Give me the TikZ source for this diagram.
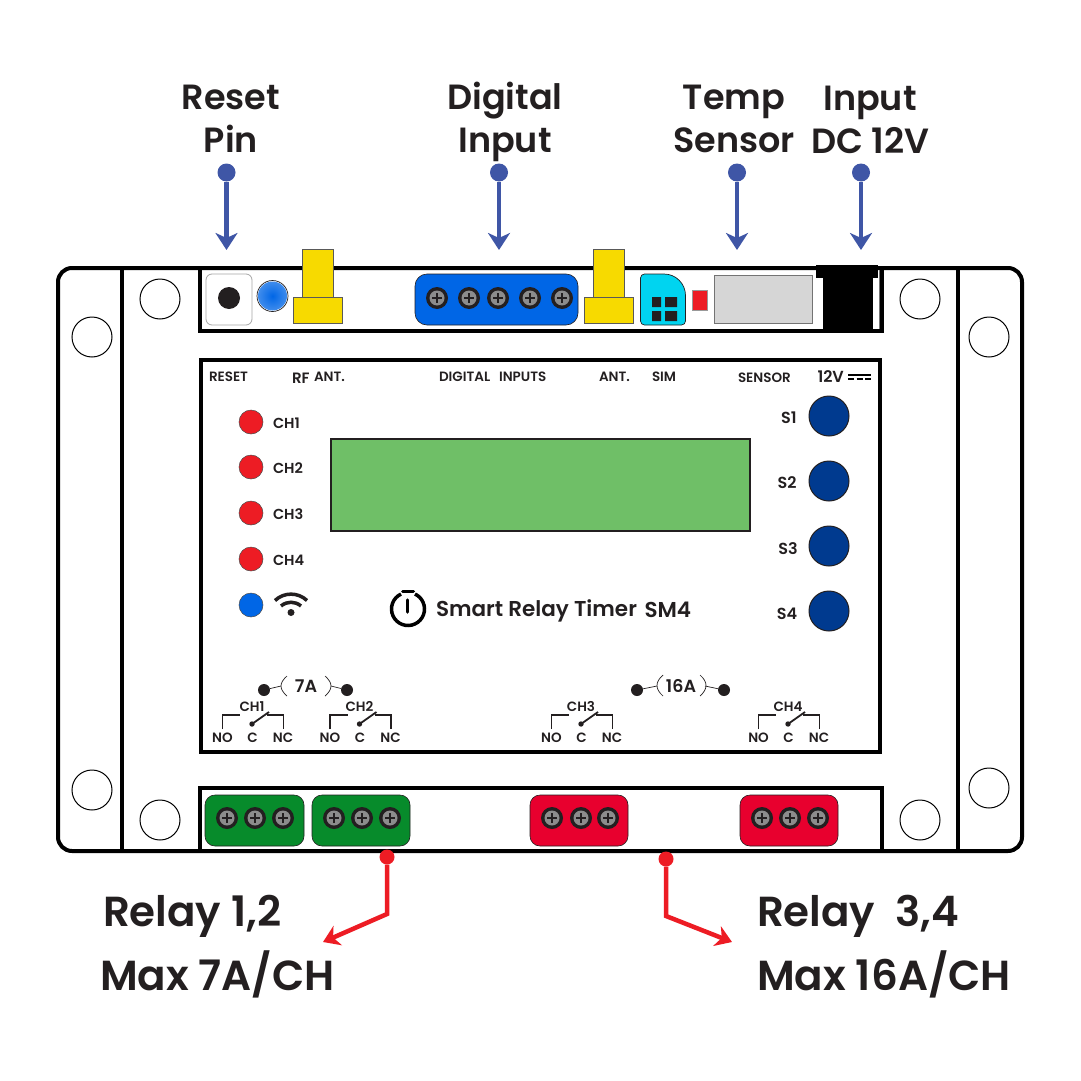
\documentclass[tikz,border=0pt]{standalone}
\usepackage{fontspec}
\setmainfont{Poppins SemiBold}
\usetikzlibrary{arrows.meta}
\definecolor{ink}{HTML}{231F20}
\definecolor{pointer}{HTML}{3F56A6}
\definecolor{alert}{HTML}{ED1C24}
\definecolor{ledblue}{HTML}{0066E6}
\definecolor{antenna}{HTML}{F7DA00}
\definecolor{greenblock}{HTML}{078B2B}
\definecolor{redblock}{HTML}{E8002E}
\definecolor{simcyan}{HTML}{00D4F0}
\definecolor{lcd}{HTML}{6FBF67}
\definecolor{keyblue}{HTML}{003A8F}
\tikzset{
  x=1pt, y=-1pt,
  every node/.style={text=ink, inner sep=0pt, outer sep=0pt},
  frame/.style={draw=black, line width=4pt},
  hole/.style={draw=black, fill=white, line width=1pt},
  headline/.style={font=\fontsize{35}{35}\selectfont, anchor=base},
  caption/.style={font=\fontsize{42}{42}\selectfont, anchor=base west},
  tiny/.style={font=\fontsize{13.5}{13.5}\selectfont, anchor=base},
  small/.style={font=\fontsize{14.5}{14.5}\selectfont, anchor=base},
  bluedot/.style={circle, fill=pointer, minimum size=18pt},
  reddot/.style={circle, fill=alert, minimum size=15pt},
  bluearrow/.style={draw=pointer, line width=4.5pt, -{Stealth[length=17pt,width=22pt,inset=5pt]}},
  redarrow/.style={draw=alert, line width=4.5pt, -{Stealth[length=16pt,width=21pt,inset=5pt]}},
  antbody/.style={draw=black!65, fill=antenna, line width=0.8pt},
  led/.style={circle, fill=#1, draw=black!70, line width=0.5pt, minimum size=24pt},
  key/.style={circle, fill=keyblue, draw=ink, line width=1pt, minimum size=40pt},
  block/.style={draw=ink, line width=0.6pt, rounded corners=10pt},
  contact/.style={circle, fill=ink, minimum size=12pt},
  thinlead/.style={draw=ink, line width=0.7pt},
  screw/.pic={
    \fill[ink] (0,0) circle (11);
    \fill[black!45] (0,0) circle (7.5);
    \draw[ink, line width=2pt] (-5,0) -- (5,0) (0,-5) -- (0,5);
  },
  antennapart/.pic={
    \draw[antbody] (-15.5,-48) rectangle (15.5,0);
    \draw[antbody] (-24.5,0) rectangle (24.5,26);
  }
}
% Relay contact symbol: #1 = x of the common pin, #2 = channel name
\newcommand{\relaysymbol}[2]{%
  \begin{scope}[shift={(#1,0)}]
    \draw[ink, line width=1.4pt] (-29.5,729) -- (-29.5,715) -- (-12,715);
    \draw[ink, line width=1.4pt] (15,715) -- (31.5,715) -- (31.5,729);
    \fill[ink] (0,724) circle (2.7);
    \draw[ink, line width=1.8pt] (0,724) -- (17,712);
    \node[tiny] at (0,711.5) {#2};
    \node[tiny] at (-29.5,742.5) {NO};
    \node[tiny] at (0.5,742.5) {C};
    \node[tiny] at (31,742.5) {NC};
  \end{scope}%
}
\begin{document}
\begin{tikzpicture}
\useasboundingbox (0,0) rectangle (1081,1081);
\fill[white] (0,0) rectangle (1081,1081);

% Enclosure and its panels
\draw[frame, rounded corners=14pt] (58,268) rectangle (1022,851);
\draw[frame] (122,268) -- (122,851) (958,268) -- (958,851);
\draw[frame] (200,268) rectangle (882,331);
\draw[frame] (200,788) rectangle (882,851);
\draw[frame] (201,360) rectangle (880,752);

% Mounting holes
\foreach \px/\py in {160/299,920/299,160/820,920/820,92/337,989/337,92/790,989/788}
  \draw[hole] (\px,\py) circle (20);

% Top connector row
\draw[draw=black!35, fill=white, line width=0.8pt, rounded corners=6pt] (206,274) rectangle (252,325);
\fill[ink] (229,298) circle (11);
\draw[draw=ink, fill=white, line width=0.7pt] (272.5,296) circle (15.5);
\shade[inner color=ledblue, outer color=ledblue!75!white] (272.5,296) circle (14.5);
\pic at (317.5,297) {antennapart};
\pic at (608.5,297) {antennapart};
\draw[block, fill=ledblue, rounded corners=12pt] (415,274) rectangle (578,325);
\foreach \px in {437,469,498,530,562} \pic at (\px,298) {screw};
\draw[draw=ink, line width=0.7pt, fill=simcyan]
  (640.5,278) arc[start angle=180, end angle=270, radius=4] -- (664,274)
  arc[start angle=270, end angle=360, radius=21.5] -- (685.5,321)
  arc[start angle=0, end angle=90, radius=4] -- (644.5,325)
  arc[start angle=90, end angle=180, radius=4] -- cycle;
\fill[ink] (652,297) rectangle (661,307) (665,297) rectangle (677,307)
           (652,311) rectangle (661,321) (665,311) rectangle (677,321);
\draw[fill=alert, draw=black!40, line width=0.5pt] (692,290) rectangle (707,310);
\draw[fill=black!16, draw=black!55, line width=1pt] (714,275) rectangle (812,323);
\fill[white] (874,271) rectangle (880,329);
\draw[black!55, line width=0.8pt] (879,270) -- (879,329);
\fill[black] (823,278) rectangle (873,331);
\fill[black] (816,265) rectangle (878,278);

% Faceplate legends
\node[tiny, anchor=base west] at (209,381.5) {RESET};
\node[tiny, anchor=base west, font=\fontsize{15}{15}\selectfont] at (292,383) {RF};
\node[tiny, anchor=base west] at (314,381.5) {ANT.};
\node[tiny, anchor=base west] at (439,381.5) {DIGITAL};
\node[tiny, anchor=base west] at (499,381.5) {INPUTS};
\node[tiny, anchor=base west] at (599,381.5) {ANT.};
\node[tiny, anchor=base west] at (652,381.5) {SIM};
\node[tiny, anchor=base west] at (738,382.5) {SENSOR};
\node[tiny, anchor=base west, font=\fontsize{16}{16}\selectfont] at (817.5,382.5) {12V};
\draw[black, line width=1.6pt] (848,375) -- (871,375);
\draw[black, line width=1.6pt, dash pattern=on 6pt off 2.5pt] (848,379) -- (871,379);

% Status LEDs
\foreach \py/\lbl in {422/CH1,467/CH2,513/CH3,559/CH4}{
  \node[led=alert] (led\lbl) at (251,\py) {};
  \node[small, anchor=base west] at (273,\py+6) {\lbl};
}
\node[led=ledblue] (ledwifi) at (251,605) {};
\fill[ink] (291,612.5) circle (3.5);
\draw[ink, line width=3.5pt] (275,600.5) .. controls (284,592) and (298,592) .. (307,600.5);
\draw[ink, line width=3.5pt] (281,606) .. controls (287,601) and (295,601) .. (301,606);

% Display
\draw[fill=lcd, draw=ink, line width=1.2pt] (331,439) rectangle (750,531);

% Push buttons
\foreach \py/\ty/\lbl/\lx in {416/423/S1/789,481/488/S2/787,546/554/S3/788,611/619/S4/787}{
  \node[key] (key\lbl) at (829,\py) {};
  \node[small, font=\fontsize{16}{16}\selectfont] at (\lx,\ty) {\lbl};
}

% Brand mark and product name
\draw[black, line width=3.5pt] (408,609) ++(245:16.5) arc[start angle=245, end angle=-65, radius=16.5];
\draw[black, line width=3pt, line cap=round] (402.5,591.5) -- (413.5,591.5);
\draw[black, line width=3.5pt, line cap=round] (407.5,600) -- (407.5,612);
\node[anchor=base west, font=\fontsize{21.5}{21.5}\selectfont] at (436,616.5) {Smart Relay Timer};
\node[anchor=base west, font=\fontsize{21.5}{21.5}\selectfont] at (644.5,617.5) {SM4};

% Current ratings
\node[contact] (c7a) at (264,690) {};
\node[contact] (c7b) at (347,690) {};
\node[contact] (c16a) at (637,690) {};
\node[contact] (c16b) at (724,690) {};
\node[small, font=\fontsize{17.5}{17.5}\selectfont] (r7) at (306,692) {7A};
\node[small, font=\fontsize{17.5}{17.5}\selectfont] (r16) at (681,692) {16A};
\coordinate (p7l) at (281,686);
\coordinate (p7r) at (331,686);
\coordinate (p16l) at (657,686);
\coordinate (p16r) at (705,686);
\draw[thinlead] (c7a) -- (p7l) (c7b) -- (p7r) (c16a) -- (p16l) (c16b) -- (p16r);
\draw[thinlead] (287,676) .. controls (279,683) and (279,689) .. (287,696);
\draw[thinlead] (325,676) .. controls (333,683) and (333,689) .. (325,696);
\draw[thinlead] (663,675) .. controls (655,682) and (655,689) .. (663,696);
\draw[thinlead] (700,675) .. controls (708,682) and (708,689) .. (700,696);

% Relay contact diagrams
\relaysymbol{252}{CH1}
\relaysymbol{359.5}{CH2}
\relaysymbol{581}{CH3}
\relaysymbol{788}{CH4}

% Output terminal blocks
\draw[block, fill=greenblock] (205,795) rectangle (304,846);
\draw[block, fill=greenblock] (312,795) rectangle (410,846);
\draw[block, fill=redblock] (530,795) rectangle (628,846);
\draw[block, fill=redblock] (740,795) rectangle (838,846);
\foreach \px in {227,255,283,334,362,390,552,581,608,762,790,818}
  \pic at (\px,818) {screw};

% Callouts along the top
\node[headline] at (231,109) {Reset};
\node[headline] at (231,152) {Pin};
\node[headline] at (505,109) {Digital};
\node[headline] at (505,152) {Input};
\node[headline] at (734,109) {Temp};
\node[headline] at (734,152) {Sensor};
\node[headline] at (870,110) {Input};
\node[headline] at (870,153) {DC 12V};
\node[bluedot] (dreset) at (226.5,172.5) {};
\node[bluedot] (ddigital) at (499,172.5) {};
\node[bluedot] (dtemp) at (737,172.5) {};
\node[bluedot] (dinput) at (861,172.5) {};
\coordinate (treset) at (226.5,250);
\coordinate (tdigital) at (499,250);
\coordinate (ttemp) at (737,250);
\coordinate (tinput) at (861,250);
\draw[bluearrow] (dreset) -- (treset);
\draw[bluearrow] (ddigital) -- (tdigital);
\draw[bluearrow] (dtemp) -- (ttemp);
\draw[bluearrow] (dinput) -- (tinput);

% Callouts along the bottom
\node[reddot] (dlow) at (387,857) {};
\node[reddot] (dhigh) at (666,859) {};
\coordinate (blow) at (387,914);
\coordinate (bhigh) at (666,916);
\coordinate (tlow) at (323,942);
\coordinate (thigh) at (732,942);
\draw[redarrow] (dlow) -- (blow) -- (tlow);
\draw[redarrow] (dhigh) -- (bhigh) -- (thigh);
\node[caption] at (103,926) {Relay 1,2};
\node[caption] at (100,990) {Max 7A/CH};
\node[caption] at (757,926) {Relay\ \ 3,4};
\node[caption] at (757,990) {Max 16A/CH};
\end{tikzpicture}
\end{document}
